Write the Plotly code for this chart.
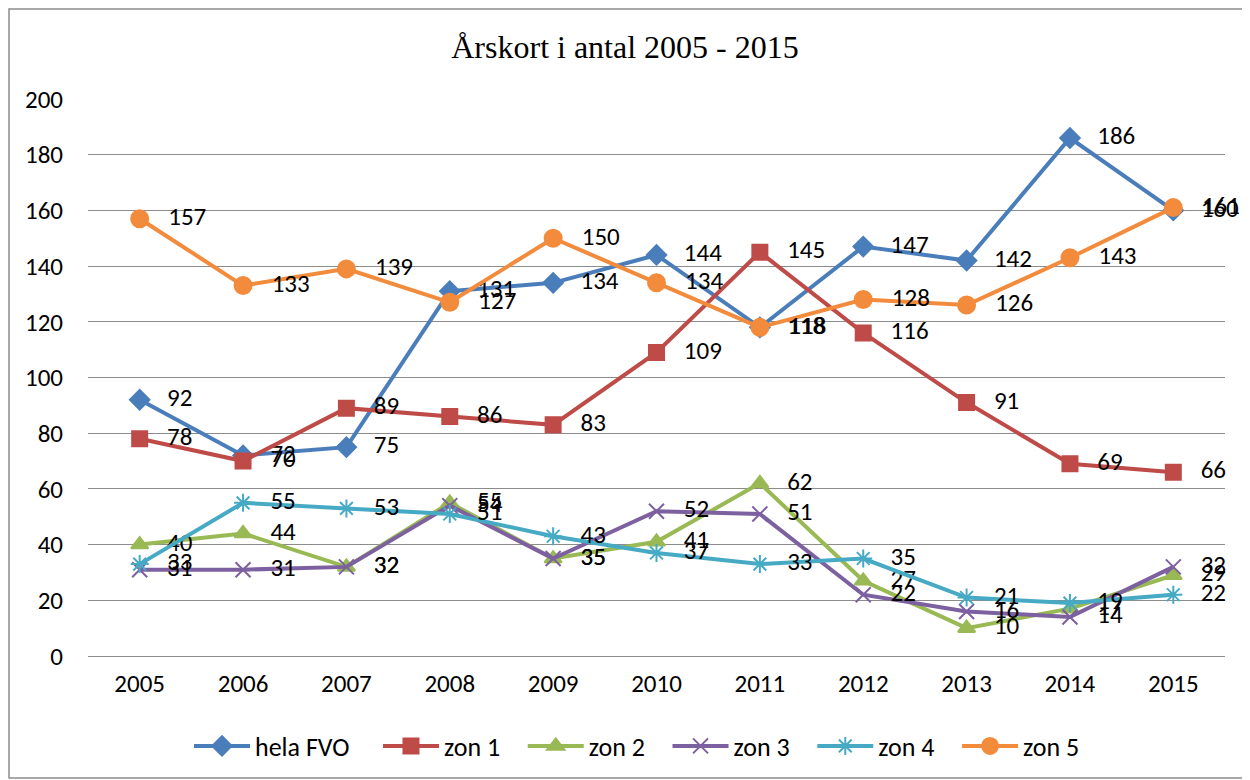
import plotly.graph_objects as go

years = ["2005", "2006", "2007", "2008", "2009", "2010", "2011", "2012", "2013", "2014", "2015"]
hela_fvo = [92, 72, 75, 131, 134, 144, 118, 147, 142, 186, 160]
zon1 = [78, 70, 89, 86, 83, 109, 145, 116, 91, 69, 66]
zon2 = [40, 44, 32, 55, 35, 41, 62, 27, 10, 17, 29]
zon3 = [31, 31, 32, 54, 35, 52, 51, 22, 16, 14, 32]
zon4 = [33, 55, 53, 51, 43, 37, 33, 35, 21, 19, 22]
zon5 = [157, 133, 139, 127, 150, 134, 118, 128, 126, 143, 161]

series_names = ["hela FVO", "zon 1", "zon 2", "zon 3", "zon 4", "zon 5"]
series_values = [hela_fvo, zon1, zon2, zon3, zon4, zon5]
colors = ["#4A7EBB", "#BE4B48", "#98B954", "#7D60A0", "#46AAC5", "#F38B3C"]
symbols = ["diamond", "square", "triangle-up", "x-thin-open", "asterisk-open", "circle"]
sizes = [15, 15, 15, 15, 15, 17]
legend_pad = [4, 3, 3, 3, 3, 0]  # trailing non-breaking spaces for legend spacing

FONT = "Carlito, Liberation Sans, sans-serif"
PAD = "\u00a0\u00a0\u00a0"

fig = go.Figure()
for name, vals, color, sym, size, lp in zip(series_names, series_values, colors, symbols, sizes, legend_pad):
    fig.add_trace(go.Scatter(
        x=years, y=vals, name=name + "\u00a0" * lp, mode="lines+markers+text",
        line=dict(color=color, width=4),
        marker=dict(symbol=sym, size=size, color=color,
                    line=dict(color=color, width=2)),
        text=[PAD + str(v) for v in vals], textposition="middle right",
        textfont=dict(family=FONT, size=25, color="black"),
        cliponaxis=False,
    ))

# page body has an 8px margin, so figure coords = picture coords - 8
L, T, W, H = 80, 91, 1137, 557
FW, FH = 1250, 780
fig.update_layout(
    width=FW, height=FH,
    margin=dict(l=L, r=FW - L - W, t=T, b=FH - T - H, autoexpand=False),
    paper_bgcolor="white", plot_bgcolor="white",
    title=dict(text="Årskort i antal 2005 - 2015", x=(625 - 8 - L) / W, xref="paper", xanchor="center",
               y=1 - 39 / FH, yanchor="middle",
               font=dict(family="Liberation Serif, Times New Roman, serif", size=32, color="black")),
    font=dict(family=FONT, size=25, color="black"),
    showlegend=True,
    legend=dict(orientation="h", x=(181 - L) / W, xanchor="left", y=-(738 - (T + H)) / H, yanchor="middle",
                font=dict(family=FONT, size=26), tracegroupgap=0, itemwidth=56),
    xaxis=dict(type="category", range=[-0.5, 10.5], showgrid=False, showline=False,
               ticks="", tickfont=dict(size=25), ticklabelstandoff=10),
    yaxis=dict(range=[0, 200], dtick=20, showgrid=True, gridcolor="#8C8C8C", gridwidth=1,
               zeroline=True, zerolinecolor="#8C8C8C", zerolinewidth=1,
               ticks="", tickfont=dict(size=25), ticklabelstandoff=24),
    shapes=[dict(type="rect", xref="paper", yref="paper",
                 x0=(1 - L) / W, x1=(1240 - L) / W, y0=-(770 - (T + H)) / H, y1=1 + (T - 1) / H,
                 line=dict(color="#8C8C8C", width=1.5), fillcolor="rgba(0,0,0,0)", layer="below")],
)

fig.write_html("out.html")
